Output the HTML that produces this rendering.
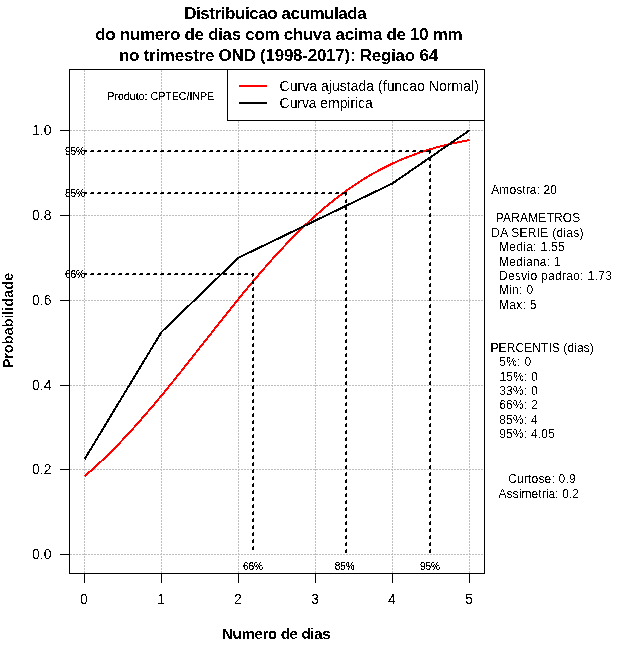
<!DOCTYPE html>
<html><head><meta charset="utf-8"><title>Distribuicao acumulada</title>
<style>
html,body{margin:0;padding:0;background:#fff;}
body{width:640px;height:660px;overflow:hidden;}
svg{display:block;font-family:"Liberation Sans",sans-serif;fill:#000;}
.t14{font-size:14px;}
.t12{font-size:12px;}
.t10{font-size:10px;}
.grid line{stroke:#bebebe;stroke-width:1;stroke-dasharray:2 1;}
.ax line{stroke:#000;stroke-width:1;}
</style></head><body>
<svg width="640" height="660" viewBox="0 0 640 660">
<rect width="640" height="660" fill="#fff"/>
<defs><filter id="bw" x="0" y="0" width="640" height="660" filterUnits="userSpaceOnUse" color-interpolation-filters="sRGB"><feComponentTransfer><feFuncA type="discrete" tableValues="0 1"/></feComponentTransfer></filter><filter id="bw2" x="0" y="0" width="640" height="660" filterUnits="userSpaceOnUse" color-interpolation-filters="sRGB"><feComponentTransfer><feFuncA type="discrete" tableValues="0 0 1 1 1"/></feComponentTransfer></filter><filter id="bw3" x="0" y="0" width="640" height="660" filterUnits="userSpaceOnUse" color-interpolation-filters="sRGB"><feComponentTransfer><feFuncA type="discrete" tableValues="0 0 0 1 1"/></feComponentTransfer></filter></defs>

<g class="grid" shape-rendering="crispEdges">
<line x1="84.5" y1="70" x2="84.5" y2="573"/>
<line x1="161.5" y1="70" x2="161.5" y2="573"/>
<line x1="238.5" y1="70" x2="238.5" y2="573"/>
<line x1="315.5" y1="70" x2="315.5" y2="573"/>
<line x1="392.5" y1="70" x2="392.5" y2="573"/>
<line x1="469.5" y1="70" x2="469.5" y2="573"/>
<line x1="70" y1="554.5" x2="484" y2="554.5"/>
<line x1="70" y1="469.5" x2="484" y2="469.5"/>
<line x1="70" y1="385.5" x2="484" y2="385.5"/>
<line x1="70" y1="300.5" x2="484" y2="300.5"/>
<line x1="70" y1="215.5" x2="484" y2="215.5"/>
<line x1="70" y1="130.5" x2="484" y2="130.5"/>
</g>
<polyline points="84.5,476.3 88.3,473.0 92.2,469.6 96.0,466.1 99.9,462.5 103.8,458.9 107.6,455.1 111.5,451.3 115.3,447.4 119.2,443.5 123.0,439.4 126.8,435.3 130.7,431.1 134.6,426.9 138.4,422.6 142.2,418.2 146.1,413.8 149.9,409.3 153.8,404.8 157.6,400.2 161.5,395.6 165.4,390.9 169.2,386.2 173.1,381.4 176.9,376.6 180.8,371.8 184.6,367.0 188.4,362.1 192.3,357.3 196.1,352.4 200.0,347.5 203.9,342.6 207.7,337.7 211.6,332.8 215.4,327.9 219.2,323.1 223.1,318.2 227.0,313.4 230.8,308.6 234.7,303.8 238.5,299.0 242.3,294.3 246.2,289.6 250.0,285.0 253.9,280.4 257.8,275.9 261.6,271.4 265.5,267.0 269.3,262.6 273.1,258.3 277.0,254.1 280.9,249.9 284.7,245.8 288.5,241.7 292.4,237.8 296.2,233.9 300.1,230.1 304.0,226.3 307.8,222.7 311.6,219.1 315.5,215.6 319.4,212.2 323.2,208.9 327.0,205.7 330.9,202.5 334.8,199.5 338.6,196.5 342.4,193.6 346.3,190.8 350.2,188.1 354.0,185.4 357.8,182.9 361.7,180.4 365.6,178.0 369.4,175.7 373.2,173.5 377.1,171.4 380.9,169.3 384.8,167.3 388.7,165.4 392.5,163.6 396.3,161.8 400.2,160.1 404.1,158.5 407.9,157.0 411.8,155.5 415.6,154.1 419.4,152.7 423.3,151.4 427.2,150.2 431.0,149.0 434.8,147.9 438.7,146.8 442.6,145.8 446.4,144.9 450.2,144.0 454.1,143.1 457.9,142.3 461.8,141.5 465.7,140.8 469.5,140.1" fill="none" stroke="#f00" stroke-width="2" shape-rendering="crispEdges"/>
<polyline points="84.5,459.4 161.5,332.0 238.5,257.7 392.5,183.4 469.5,130.3" fill="none" stroke="#000" stroke-width="2" shape-rendering="crispEdges"/>
<g stroke="#000" stroke-width="1" fill="none" shape-rendering="crispEdges">
<line x1="84" y1="274.5" x2="254" y2="274.5" stroke-dasharray="4 3" stroke-dashoffset="1"/>
<line x1="84" y1="273.5" x2="254" y2="273.5" stroke-dasharray="3 4"/>
<line x1="251" y1="274.5" x2="254" y2="274.5"/>
<line x1="252" y1="273.5" x2="254" y2="273.5"/>
<line x1="253.5" y1="273" x2="253.5" y2="276"/>
<line x1="252.5" y1="273" x2="252.5" y2="277"/>
<line x1="253.5" y1="280" x2="253.5" y2="553" stroke-dasharray="4 3"/>
<line x1="252.5" y1="281" x2="252.5" y2="553" stroke-dasharray="3 4"/>
<line x1="84" y1="193.5" x2="347" y2="193.5" stroke-dasharray="4 3" stroke-dashoffset="1"/>
<line x1="84" y1="192.5" x2="347" y2="192.5" stroke-dasharray="3 4"/>
<line x1="342" y1="193.5" x2="347" y2="193.5"/>
<line x1="343" y1="192.5" x2="347" y2="192.5"/>
<line x1="346.5" y1="192" x2="346.5" y2="195"/>
<line x1="345.5" y1="192" x2="345.5" y2="196"/>
<line x1="346.5" y1="199" x2="346.5" y2="553" stroke-dasharray="4 3"/>
<line x1="345.5" y1="200" x2="345.5" y2="553" stroke-dasharray="3 4"/>
<line x1="84" y1="151.5" x2="431" y2="151.5" stroke-dasharray="4 3" stroke-dashoffset="1"/>
<line x1="84" y1="150.5" x2="431" y2="150.5" stroke-dasharray="3 4"/>
<line x1="426" y1="151.5" x2="431" y2="151.5"/>
<line x1="427" y1="150.5" x2="431" y2="150.5"/>
<line x1="430.5" y1="150" x2="430.5" y2="153"/>
<line x1="429.5" y1="150" x2="429.5" y2="154"/>
<line x1="430.5" y1="157" x2="430.5" y2="553" stroke-dasharray="4 3"/>
<line x1="429.5" y1="158" x2="429.5" y2="553" stroke-dasharray="3 4"/>
</g>
<g class="ax" shape-rendering="crispEdges">
<rect x="69.5" y="69.5" width="415.0" height="504.0" fill="none" stroke="#000" stroke-width="1"/>
<line x1="84.5" y1="573" x2="84.5" y2="583"/>
<line x1="161.5" y1="573" x2="161.5" y2="583"/>
<line x1="238.5" y1="573" x2="238.5" y2="583"/>
<line x1="315.5" y1="573" x2="315.5" y2="583"/>
<line x1="392.5" y1="573" x2="392.5" y2="583"/>
<line x1="469.5" y1="573" x2="469.5" y2="583"/>
<line x1="60" y1="554.5" x2="69" y2="554.5"/>
<line x1="60" y1="469.5" x2="69" y2="469.5"/>
<line x1="60" y1="385.5" x2="69" y2="385.5"/>
<line x1="60" y1="300.5" x2="69" y2="300.5"/>
<line x1="60" y1="215.5" x2="69" y2="215.5"/>
<line x1="60" y1="130.5" x2="69" y2="130.5"/>
</g>
<rect x="227.5" y="69.5" width="257" height="51" fill="#fff" stroke="#000" stroke-width="1" shape-rendering="crispEdges"/>
<line x1="239" y1="86" x2="267" y2="86" stroke="#f00" stroke-width="2" shape-rendering="crispEdges"/>
<line x1="239" y1="103" x2="267" y2="103" stroke="#000" stroke-width="2" shape-rendering="crispEdges"/>
<g filter="url(#bw3)">
<text transform="translate(13,368.6) rotate(-90)" style="font-size:15px;font-weight:bold;" textLength="95.99" lengthAdjust="spacing">Probabilidade</text>
</g>
<g filter="url(#bw)">
<text class="t14" x="80" y="604">0</text>
<text class="t14" x="157" y="604">1</text>
<text class="t14" x="234" y="604">2</text>
<text class="t14" x="311" y="604">3</text>
<text class="t14" x="388" y="604">4</text>
<text class="t14" x="465" y="604">5</text>
<text class="t14" x="32" y="559">0.0</text>
<text class="t14" x="32" y="474">0.2</text>
<text class="t14" x="32" y="390">0.4</text>
<text class="t14" x="32" y="305">0.6</text>
<text class="t14" x="32" y="220">0.8</text>
<text class="t14" x="32" y="135">1.0</text>
<text x="184.2" y="18.5" style="font-size:17px;font-weight:bold;" textLength="182.58" lengthAdjust="spacing">Distribuicao acumulada</text>
<text x="95.3" y="39.5" style="font-size:17px;font-weight:bold;" textLength="367.35" lengthAdjust="spacing">do numero de dias com chuva acima de 10 mm</text>
<text x="118.9" y="60.5" style="font-size:17px;font-weight:bold;" textLength="319.2" lengthAdjust="spacing">no trimestre OND (1998-2017): Regiao 64</text>
<text x="222.0" y="638.5" style="font-size:15px;font-weight:bold;" textLength="108.53" lengthAdjust="spacing">Numero de dias</text>
<text x="279.6" y="90.5" style="font-size:14px;" textLength="199.22" lengthAdjust="spacing">Curva ajustada (funcao Normal)</text>
<text x="279.6" y="108" style="font-size:14px;" textLength="93.14" lengthAdjust="spacing">Curva empirica</text>
<text x="491.25" y="193.5" style="font-size:12px;" textLength="65.7" lengthAdjust="spacing">Amostra: 20</text>
<text x="495.75" y="222.3" style="font-size:12px;" textLength="84.62" lengthAdjust="spacing">PARAMETROS</text>
<text x="491.25" y="236.7" style="font-size:12px;" textLength="92.2" lengthAdjust="spacing">DA SERIE (dias)</text>
<text x="499.0" y="251.1" style="font-size:12px;" textLength="65.72" lengthAdjust="spacing">Media: 1.55</text>
<text x="499.0" y="265.5" style="font-size:12px;" textLength="61.38" lengthAdjust="spacing">Mediana: 1</text>
<text x="499.0" y="279.9" style="font-size:12px;" textLength="112.91" lengthAdjust="spacing">Desvio padrao: 1.73</text>
<text x="499.0" y="294.3" style="font-size:12px;" textLength="34.19" lengthAdjust="spacing">Min: 0</text>
<text x="499.0" y="308.7" style="font-size:12px;" textLength="37.52" lengthAdjust="spacing">Max: 5</text>
<text x="490.5" y="351.8" style="font-size:12px;" textLength="103.23" lengthAdjust="spacing">PERCENTIS (dias)</text>
<text x="499.2" y="366.2" style="font-size:12px;" textLength="32.09" lengthAdjust="spacing">5%: 0</text>
<text x="499.5" y="380.6" style="font-size:12px;" textLength="38.16" lengthAdjust="spacing">15%: 0</text>
<text x="499.2" y="395" style="font-size:12px;" textLength="38.56" lengthAdjust="spacing">33%: 0</text>
<text x="499.2" y="409.4" style="font-size:12px;" textLength="38.56" lengthAdjust="spacing">66%: 2</text>
<text x="499.2" y="423.8" style="font-size:12px;" textLength="38.56" lengthAdjust="spacing">85%: 4</text>
<text x="499.2" y="438.2" style="font-size:12px;" textLength="55.65" lengthAdjust="spacing">95%: 4.05</text>
<text x="508.2" y="483.3" style="font-size:12px;" textLength="67.38" lengthAdjust="spacing">Curtose: 0.9</text>
<text x="498.5" y="497.7" style="font-size:12px;" textLength="80.56" lengthAdjust="spacing">Assimetria: 0.2</text>
</g>
<g filter="url(#bw2)">
<text class="t10" x="85" y="277.5" text-anchor="end">66%</text>
<text class="t10" x="253" y="569.5" text-anchor="middle">66%</text>
<text class="t10" x="85" y="196.5" text-anchor="end">85%</text>
<text class="t10" x="344.7" y="569.5" text-anchor="middle">85%</text>
<text class="t10" x="85" y="154.5" text-anchor="end">95%</text>
<text class="t10" x="430" y="569.5" text-anchor="middle">95%</text>
<text x="107.3" y="99.5" style="font-size:10.5px;" textLength="106.82" lengthAdjust="spacing">Produto: CPTEC/INPE</text>
</g>
</svg></body></html>
